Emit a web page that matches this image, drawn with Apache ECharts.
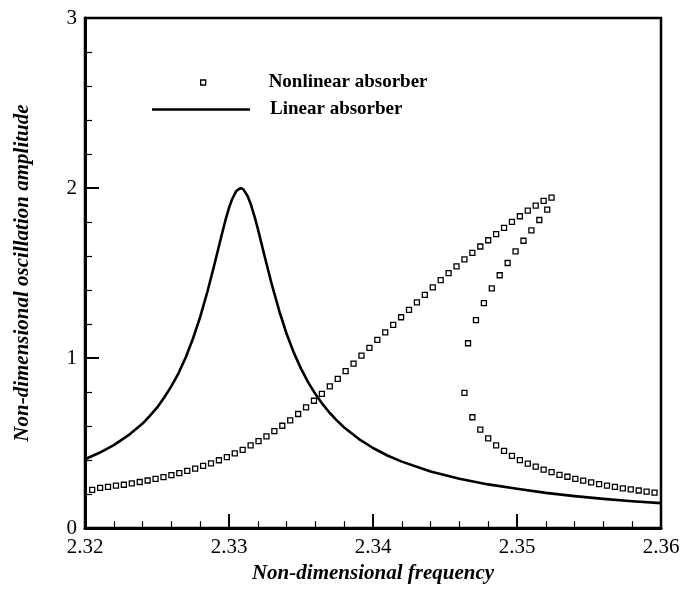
<!DOCTYPE html>
<html>
<head>
<meta charset="utf-8">
<script src="https://cdn.jsdelivr.net/npm/echarts@6/dist/echarts.min.js"></script>
<style>html,body{margin:0;padding:0;background:#fff}#c{width:683px;height:589px}</style>
</head>
<body>
<div id="c"></div>
<script>
// Linear absorber response curve
const linX = [2.320, 2.321, 2.322, 2.323, 2.324, 2.3245, 2.325, 2.3255, 2.326, 2.3265, 2.327, 2.3275, 2.328, 2.3285, 2.329, 2.3295, 2.3298, 2.330, 2.3302, 2.3305, 2.3308, 2.331, 2.3313, 2.3315, 2.3318, 2.332, 2.3325, 2.333, 2.3335, 2.334, 2.3345, 2.335, 2.3355, 2.336, 2.3365, 2.337, 2.3375, 2.338, 2.339, 2.340, 2.341, 2.342, 2.344, 2.346, 2.348, 2.350, 2.352, 2.354, 2.356, 2.358, 2.360];
const linY = [0.405, 0.443, 0.488, 0.545, 0.615, 0.660, 0.708, 0.768, 0.835, 0.912, 1.005, 1.115, 1.242, 1.390, 1.555, 1.727, 1.825, 1.883, 1.931, 1.982, 2.000, 1.992, 1.952, 1.908, 1.825, 1.761, 1.590, 1.424, 1.274, 1.143, 1.032, 0.938, 0.857, 0.788, 0.729, 0.677, 0.632, 0.592, 0.525, 0.471, 0.427, 0.391, 0.333, 0.290, 0.257, 0.231, 0.207, 0.188, 0.172, 0.158, 0.147];

// Nonlinear absorber: upper branch (frequency sweep up)
const upX = [2.3205, 2.32105, 2.3216, 2.32215, 2.3227, 2.32325, 2.3238, 2.32435, 2.3249, 2.32545, 2.326, 2.32655, 2.3271, 2.32765, 2.3282, 2.32875, 2.3293, 2.32985, 2.3304, 2.33095, 2.3315, 2.33205, 2.3326, 2.33315, 2.3337, 2.33425, 2.3348, 2.33535, 2.3359, 2.33645, 2.337, 2.33755, 2.3381, 2.33865, 2.3392, 2.33975, 2.3403, 2.34085, 2.3414, 2.34195, 2.3425, 2.34305, 2.3436, 2.34415, 2.3447, 2.34525, 2.3458, 2.34635, 2.3469, 2.34745, 2.348, 2.34855, 2.3491, 2.34965, 2.3502, 2.35075, 2.3513, 2.35185, 2.3524];
const upY = [0.225, 0.236, 0.242, 0.250, 0.255, 0.263, 0.271, 0.280, 0.290, 0.300, 0.312, 0.323, 0.337, 0.350, 0.366, 0.381, 0.399, 0.418, 0.439, 0.460, 0.486, 0.511, 0.540, 0.570, 0.602, 0.634, 0.671, 0.710, 0.749, 0.789, 0.834, 0.878, 0.923, 0.967, 1.014, 1.060, 1.107, 1.151, 1.195, 1.240, 1.284, 1.328, 1.372, 1.416, 1.458, 1.499, 1.539, 1.580, 1.619, 1.656, 1.693, 1.729, 1.766, 1.801, 1.834, 1.867, 1.896, 1.925, 1.944];
// middle (returning) branch
const midX = [2.3521, 2.35155, 2.351, 2.35045, 2.3499, 2.34935, 2.3488, 2.34825, 2.3477, 2.34715, 2.3466, 2.34635];
const midY = [1.873, 1.812, 1.751, 1.690, 1.627, 1.559, 1.487, 1.410, 1.323, 1.223, 1.087, 0.795];
// lower branch
const lowX = [2.3469, 2.34745, 2.348, 2.34855, 2.3491, 2.34965, 2.3502, 2.35075, 2.3513, 2.35185, 2.3524, 2.35295, 2.3535, 2.35405, 2.3546, 2.35515, 2.3557, 2.35625, 2.3568, 2.35735, 2.3579, 2.35845, 2.359, 2.35955];
const lowY = [0.652, 0.579, 0.528, 0.487, 0.454, 0.425, 0.400, 0.379, 0.362, 0.344, 0.329, 0.313, 0.302, 0.290, 0.279, 0.269, 0.259, 0.250, 0.242, 0.234, 0.228, 0.221, 0.215, 0.209];

const xTicks = ['2.32', '2.33', '2.34', '2.35', '2.36'];
const yTicks = ['0', '1', '2', '3'];

const zip = (a, b) => a.map((v, i) => [v, b[i]]);
const nonlinear = zip(upX, upY).concat(zip(midX, midY), zip(lowX, lowY));

const FONT = "'Liberation Serif','Times New Roman',serif";
const legendText = {fontFamily: FONT, fontWeight: 'bold', fontSize: 19, color: '#000'};
const chart = echarts.init(document.getElementById('c'), null, {renderer: 'canvas'});
chart.setOption({
  animation: false,
  backgroundColor: '#fff',
  grid: {left: 85, right: 22, top: 18, bottom: 54, show: true, borderColor: '#000', borderWidth: 2.5, backgroundColor: 'transparent'},
  legend: [
    {data: [{name: 'Nonlinear absorber', icon: 'rect'}], left: 195, top: 68, orient: 'vertical',
     itemWidth: 5, itemHeight: 5, itemStyle: {color: '#fff', borderColor: '#000', borderWidth: 1.3},
     textStyle: Object.assign({padding: [0, 0, 0, 58]}, legendText)},
    {data: [{name: 'Linear absorber', icon: 'rect'}], left: 147, top: 95, orient: 'vertical',
     itemWidth: 98, itemHeight: 2.6, itemStyle: {color: '#000', borderWidth: 0},
     textStyle: Object.assign({padding: [0, 0, 0, 15]}, legendText)}
  ],
  xAxis: {
    type: 'value', min: 2.32, max: 2.36, interval: 0.01,
    name: 'Non-dimensional frequency', nameLocation: 'middle', nameGap: 34,
    nameTextStyle: {fontFamily: FONT, fontWeight: 'bold', fontStyle: 'italic', fontSize: 21, color: '#000'},
    axisLine: {onZero: false, lineStyle: {color: '#000', width: 3}},
    axisTick: {inside: true, length: 14, lineStyle: {color: '#000', width: 2}},
    minorTick: {show: true, splitNumber: 5, length: 7, lineStyle: {color: '#000', width: 1.2}},
    splitLine: {show: false},
    axisLabel: {fontFamily: FONT, fontSize: 21, color: '#000', margin: 9,
      formatter: v => xTicks.find(t => Math.abs(parseFloat(t) - v) < 1e-6) || ''}
  },
  yAxis: {
    type: 'value', min: 0, max: 3, interval: 1,
    name: 'Non-dimensional oscillation amplitude', nameLocation: 'middle', nameGap: 52,
    nameTextStyle: {fontFamily: FONT, fontWeight: 'bold', fontStyle: 'italic', fontSize: 21, color: '#000'},
    axisLine: {onZero: false, lineStyle: {color: '#000', width: 3}},
    axisTick: {inside: true, length: 14, lineStyle: {color: '#000', width: 2}},
    minorTick: {show: true, splitNumber: 5, length: 7, lineStyle: {color: '#000', width: 1.2}},
    splitLine: {show: false},
    axisLabel: {fontFamily: FONT, fontSize: 21, color: '#000', margin: 8,
      formatter: v => yTicks.find(t => Math.abs(parseFloat(t) - v) < 1e-6) || ''}
  },
  series: [
    {name: 'Nonlinear absorber', type: 'scatter', data: nonlinear, symbol: 'rect', symbolSize: 5,
     itemStyle: {color: '#fff', borderColor: '#000', borderWidth: 1.3, opacity: 1}, z: 3},
    {name: 'Linear absorber', type: 'line', data: zip(linX, linY), smooth: false,
     showSymbol: false, symbol: 'none',
     lineStyle: {color: '#000', width: 2.6, join: 'round'}, itemStyle: {color: '#000'}, z: 2}
  ]
});
</script>
</body>
</html>
